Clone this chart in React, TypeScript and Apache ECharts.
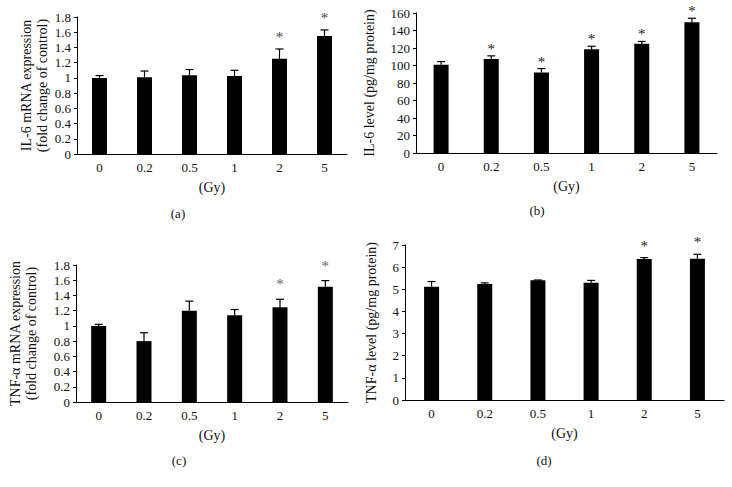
import React, { useEffect, useRef } from "react";
import * as echarts from "echarts";

const categories = ["0", "0.2", "0.5", "1", "2", "5"];

const il6Mrna = [1.0, 1.01, 1.035, 1.025, 1.25, 1.55];
const il6MrnaErr = [0.03, 0.08, 0.075, 0.075, 0.13, 0.08];
const il6MrnaSig = [0, 0, 0, 0, 1, 1];

const il6Level = [101, 107.5, 92, 118.5, 125, 149.5];
const il6LevelErr = [3.5, 3.5, 4.5, 3.5, 2.5, 4.5];
const il6LevelSig = [0, 1, 1, 1, 1, 1];

const tnfMrna = [1.0, 0.8, 1.2, 1.14, 1.245, 1.515];
const tnfMrnaErr = [0.02, 0.11, 0.125, 0.075, 0.105, 0.08];
const tnfMrnaSig = [0, 0, 0, 0, 1, 1];

const tnfLevel = [5.12, 5.24, 5.41, 5.3, 6.37, 6.38];
const tnfLevelErr = [0.23, 0.05, 0.01, 0.1, 0.06, 0.2];
const tnfLevelSig = [0, 0, 0, 0, 1, 1];

const FONT = "'Liberation Serif', 'DejaVu Serif', serif";

const panels = [
  {
    values: il6Mrna, errs: il6MrnaErr, sig: il6MrnaSig,
    grid: { left: 77, top: 17, width: 270, height: 137 },
    max: 1.8, interval: 0.2,
    name: "IL-6 mRNA expression\n(fold change of control)", nameGap: 26,
    starOffset: 15, starColor: "#444", label: "(a)", labelPos: [178, 213],
  },
  {
    values: il6Level, errs: il6LevelErr, sig: il6LevelSig,
    grid: { left: 416, top: 13, width: 301, height: 140 },
    max: 160, interval: 20,
    name: "IL-6 level (pg/mg protein)", nameGap: 39,
    starOffset: 10, starColor: "#222", label: "(b)", labelPos: [537, 210],
  },
  {
    values: tnfMrna, errs: tnfMrnaErr, sig: tnfMrnaSig,
    grid: { left: 76, top: 265, width: 272, height: 137 },
    max: 1.8, interval: 0.2,
    name: "TNF-\u03b1 mRNA expression\n(fold change of control)", nameGap: 37,
    starOffset: 18, starColor: "#666", label: "(c)", labelPos: [179, 460],
  },
  {
    values: tnfLevel, errs: tnfLevelErr, sig: tnfLevelSig,
    grid: { left: 405, top: 245, width: 319, height: 155 },
    max: 7, interval: 1,
    name: "TNF-\u03b1 level (pg/mg protein)", nameGap: 26,
    starOffset: 15, starColor: "#222", label: "(d)", labelPos: [544, 460],
  },
];

export default function App() {
  const ref = useRef<HTMLDivElement>(null);
  useEffect(() => {
    if (!ref.current) return;
    const chart = echarts.init(ref.current, null, { renderer: "svg" });
    const grids: any[] = [];
    const xAxes: any[] = [];
    const yAxes: any[] = [];
    const series: any[] = [];
    const graphics: any[] = [];
    panels.forEach((p, i) => {
      grids.push({ ...p.grid, containLabel: false });
      xAxes.push({
        type: "category",
        gridIndex: i,
        data: categories,
        name: "(Gy)",
        nameLocation: "middle",
        nameGap: 26,
        nameTextStyle: { fontFamily: FONT, fontSize: 14, color: "#111" },
        axisLine: { lineStyle: { color: "#000", width: 1 } },
        axisTick: { alignWithLabel: true, length: 3, lineStyle: { color: "#000" } },
        axisLabel: { fontFamily: FONT, fontSize: 13, color: "#111", margin: 7 },
      });
      yAxes.push({
        type: "value",
        gridIndex: i,
        min: 0,
        max: p.max,
        interval: p.interval,
        name: p.name,
        nameLocation: "middle",
        nameGap: p.nameGap,
        nameRotate: 90,
        nameTextStyle: { fontFamily: FONT, fontSize: 14, color: "#111", lineHeight: 16 },
        axisLine: { show: true, lineStyle: { color: "#000", width: 1 } },
        axisTick: { show: true, length: 3, lineStyle: { color: "#000" } },
        axisLabel: { fontFamily: FONT, fontSize: 13, color: "#111", margin: 6 },
        splitLine: { show: false },
      });
      series.push({
        type: "bar",
        xAxisIndex: i,
        yAxisIndex: i,
        data: p.values,
        barWidth: 15,
        itemStyle: { color: "#000" },
      });
      series.push({
        type: "custom",
        xAxisIndex: i,
        yAxisIndex: i,
        data: p.values.map((v, k) => [k, v, p.errs[k], p.sig[k]]),
        encode: { x: 0, y: 1 },
        z: 5,
        renderItem: (params: any, api: any) => {
          const idx = api.value(0);
          const v = api.value(1);
          const e = api.value(2);
          const s = api.value(3);
          const base = api.coord([idx, v]);
          const top = api.coord([idx, v + e]);
          const children: any[] = [
            {
              type: "line",
              shape: { x1: base[0], y1: base[1], x2: top[0], y2: top[1] },
              style: { stroke: "#000", lineWidth: 1.2 },
            },
            {
              type: "line",
              shape: { x1: top[0] - 4, y1: top[1], x2: top[0] + 4, y2: top[1] },
              style: { stroke: "#000", lineWidth: 1.2 },
            },
          ];
          if (s) {
            children.push({
              type: "text",
              x: top[0],
              y: top[1] - p.starOffset + 3,
              style: {
                text: "*",
                fontFamily: FONT,
                fontSize: 15,
                fill: p.starColor,
                align: "center",
                verticalAlign: "middle",
              },
            });
          }
          return { type: "group", children };
        },
      });
      graphics.push({
        type: "text",
        x: p.labelPos[0],
        y: p.labelPos[1],
        style: {
          text: p.label,
          fontFamily: FONT,
          fontSize: 13,
          fill: "#111",
          align: "center",
          verticalAlign: "middle",
        },
      });
    });
    chart.setOption({
      animation: false,
      backgroundColor: "#fff",
      grid: grids,
      xAxis: xAxes,
      yAxis: yAxes,
      series,
      graphic: graphics,
    });
    return () => chart.dispose();
  }, []);
  return (
    <div
      ref={ref}
      style={{ position: "fixed", left: 0, top: 0, width: 732, height: 487 }}
    />
  );
}
